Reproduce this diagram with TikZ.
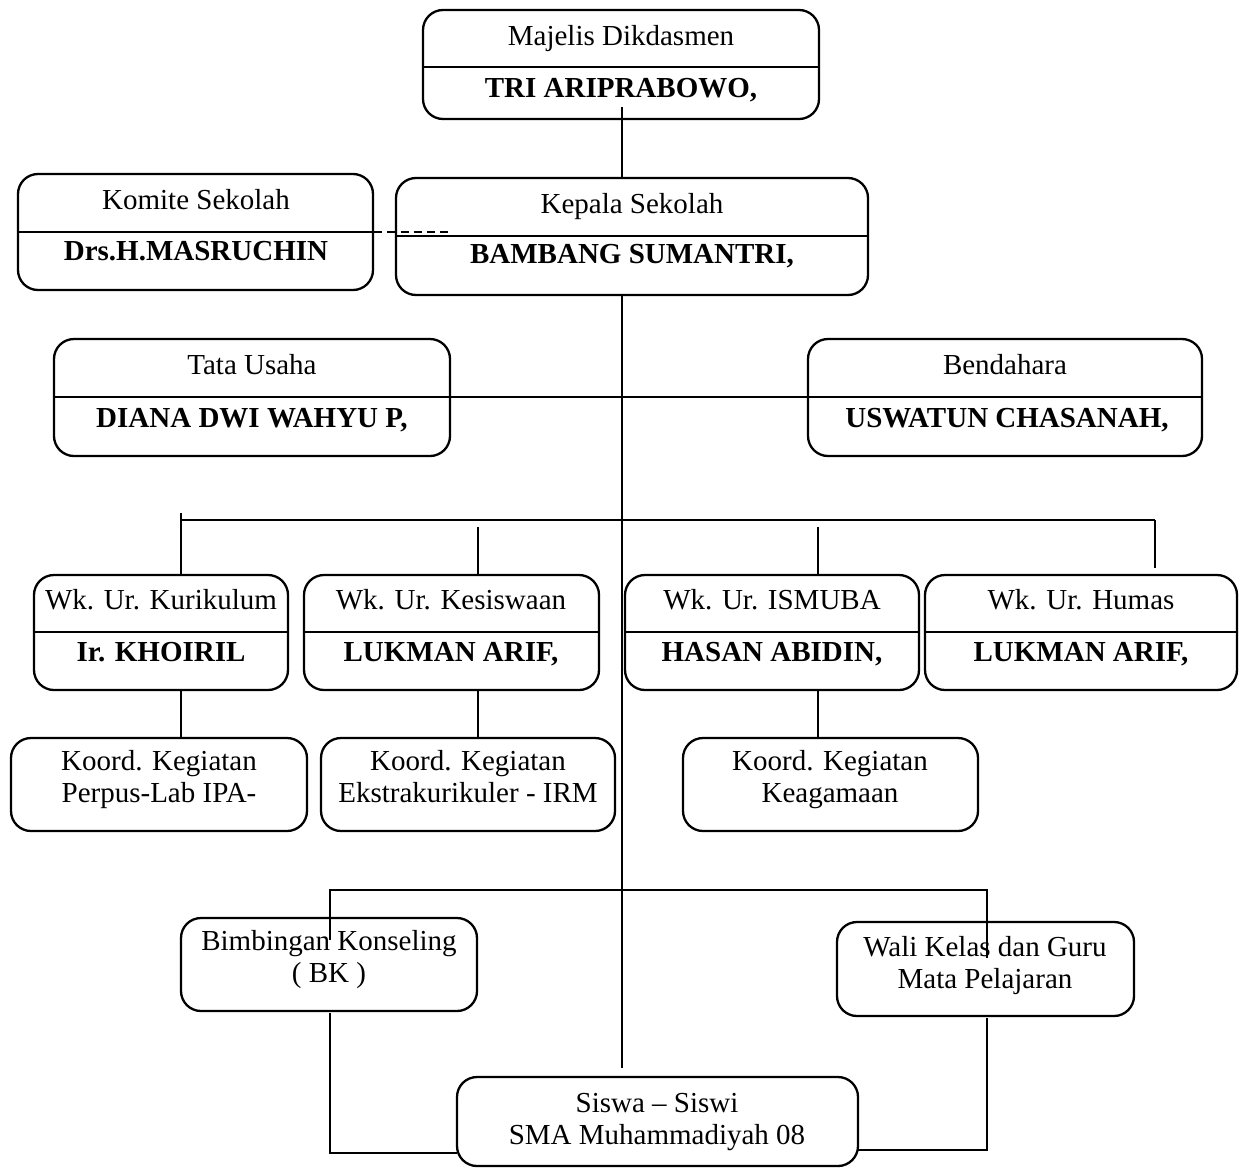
\documentclass[tikz,border=0pt]{standalone}
\usepackage{fontspec}
\setmainfont{Liberation Serif}
\usetikzlibrary{fit,calc}
\begin{document}
\begin{tikzpicture}[x=0.5pt,y=-0.5pt,
  box/.style={draw, line width=1.15pt, rounded corners=10pt, inner sep=0pt},
  ln/.style={line width=1pt},
  every node/.style={font=\fontsize{14.5}{16}\selectfont},
  lbl/.style={anchor=base, inner sep=0pt},
  bl/.style={anchor=base, inner sep=0pt, font=\fontsize{14.5}{16}\selectfont\bfseries},
  ml/.style={anchor=center, inner sep=0pt, align=center, text depth=3.5pt}]
\useasboundingbox (0,0) rectangle (1246,1167);

% ---------- boxes ----------
\node[box, fit={(423,10)(819,119)}] (maj) {};
\node[box, fit={(18,174)(373,290)}] (kom) {};
\node[box, fit={(396,178)(868,295)}] (kep) {};
\node[box, fit={(54,339)(450,456)}] (tu) {};
\node[box, fit={(808,339)(1202,456)}] (ben) {};
\node[box, fit={(34,575)(288,690)}] (kur) {};
\node[box, fit={(304,575)(599,690)}] (kes) {};
\node[box, fit={(625,575)(919,690)}] (ism) {};
\node[box, fit={(925,575)(1237,690)}] (hum) {};
\node[box, fit={(11,738)(307,831)}] (ko1) {};
\node[box, fit={(321,738)(615,831)}] (ko2) {};
\node[box, fit={(683,738)(978,831)}] (ko3) {};
\node[box, fit={(181,918)(477,1011)}] (bk) {};
\node[box, fit={(837,922)(1134,1016)}] (wali) {};
\node[box, fit={(457,1077)(858,1166)}] (sis) {};

% ---------- dividers ----------
\draw[ln] (maj.west |- 0,67) -- (maj.east |- 0,67);
\draw[ln] (kom.west |- 0,232) -- (kom.east |- 0,232);
\draw[ln] (kep.west |- 0,236) -- (kep.east |- 0,236);
\draw[ln] (tu.west |- 0,397) -- (tu.east |- 0,397);
\draw[ln] (ben.west |- 0,397) -- (ben.east |- 0,397);
\foreach \n in {kur,kes,ism,hum}
  \draw[ln] (\n.west |- 0,632) -- (\n.east |- 0,632);

% ---------- texts ----------
\node[lbl] (majA) at (621,45) {Majelis Dikdasmen};
\node[bl]  (majB) at (621,97) {TRI ARIPRABOWO,};
\node[lbl] (komA) at (196,209) {Komite Sekolah};
\node[bl]  (komB) at (196,260) {Drs.H.MASRUCHIN};
\node[lbl] (kepA) at (632,213) {Kepala Sekolah};
\node[bl]  (kepB) at (632,263) {BAMBANG SUMANTRI,};
\node[lbl] (tuA) at (252,374) {Tata Usaha};
\node[bl]  (tuB) at (252,427) {DIANA DWI WAHYU P,};
\node[lbl] (benA) at (1005,374) {Bendahara};
\node[bl]  (benB) at (1007,427) {USWATUN CHASANAH,};
\node[lbl] (kurA) at (161,609) {Wk. Ur. Kurikulum};
\node[bl]  (kurB) at (161,661) {Ir. KHOIRIL};
\node[lbl] (kesA) at (451,609) {Wk. Ur. Kesiswaan};
\node[bl]  (kesB) at (451,661) {LUKMAN ARIF,};
\node[lbl] (ismA) at (772,609) {Wk. Ur. ISMUBA};
\node[bl]  (ismB) at (772,661) {HASAN ABIDIN,};
\node[lbl] (humA) at (1081,609) {Wk. Ur. Humas};
\node[bl]  (humB) at (1081,661) {LUKMAN ARIF,};
\node[ml] (ko1T) at (159,780) {Koord. Kegiatan\\Perpus-Lab IPA-};
\node[ml] (ko2T) at (468,780) {Koord. Kegiatan\\Ekstrakurikuler - IRM};
\node[ml] (ko3T) at (830,780) {Koord. Kegiatan\\Keagamaan};
\node[ml] (bkT) at (329,960) {Bimbingan Konseling\\( BK )};
\node[ml] (waliT) at (985,966) {Wali Kelas dan Guru\\Mata Pelajaran};
\node[ml] (sisT) at (657,1122) {Siswa -- Siswi\\SMA Muhammadiyah 08};

% ---------- connector points ----------
\coordinate (m1) at (622,107);
\coordinate (c1) at (622,295);
\coordinate (c2) at (622,1068);
\coordinate (kd) at (452,232);
\coordinate (bd) at (860,397);
\coordinate (busL) at (181,520);
\coordinate (busR) at (1155,520);
\coordinate (d1) at (181,513);
\coordinate (d2) at (478,527);
\coordinate (d3) at (818,527);
\coordinate (d4) at (1155,568);
\coordinate (bbL) at (330,890);
\coordinate (bbR) at (987,890);
\coordinate (bkin) at (330,940);
\coordinate (waliin) at (987,958);
\coordinate (bkout) at (330,1013);
\coordinate (waliout) at (987,1018);
\coordinate (sisL) at (457,1153);
\coordinate (sisR) at (858,1150);

% ---------- connectors ----------
\draw[ln] (m1) -- (m1 |- kep.north);
\draw[ln, dash pattern=on 4pt off 2.6pt] (kom.east |- kd) -- (kd);
\draw[ln] (c1) -- (c2);
\draw[ln] (tu.east |- bd) -- (bd);
\draw[ln] (busL) -- (busR);
\draw[ln] (d1) -- (d1 |- kur.north);
\draw[ln] (d2) -- (d2 |- kes.north);
\draw[ln] (d3) -- (d3 |- ism.north);
\draw[ln] (busR) -- (d4);
\draw[ln] (kur.south -| d1) -- (ko1.north -| d1);
\draw[ln] (kes.south -| d2) -- (ko2.north -| d2);
\draw[ln] (ism.south -| d3) -- (ko3.north -| d3);
\draw[ln] (bkin) -- (bbL) -- (bbR) -- (waliin);
\draw[ln] (bkout) |- (sisL);
\draw[ln] (waliout) |- (sisR);
\end{tikzpicture}
\end{document}
